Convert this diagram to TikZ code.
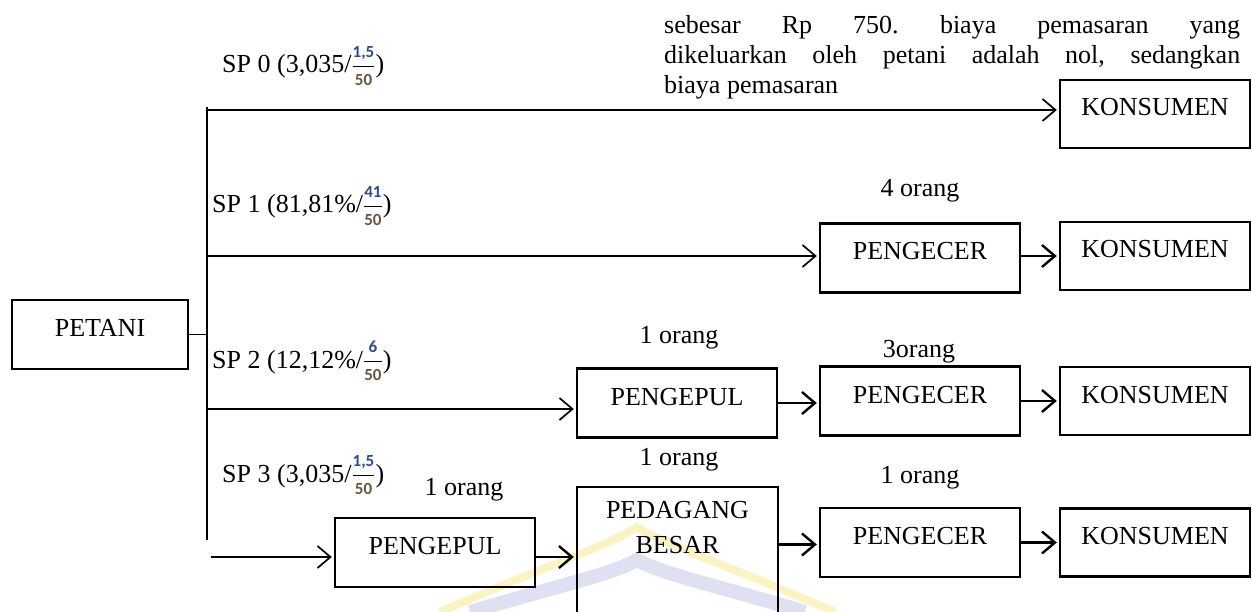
\documentclass[tikz,border=0pt]{standalone}
\usepackage{fontspec}
\setmainfont{Liberation Serif}
\newfontfamily\fracfont{Carlito}
\usepackage{xcolor}
\usepackage{amsmath}
\usetikzlibrary{arrows.meta,positioning}
\definecolor{fracnum}{RGB}{45,75,145}
\definecolor{fracden}{RGB}{105,85,60}
\definecolor{wmyellow}{RGB}{252,243,196}
\definecolor{wmblue}{RGB}{224,224,243}
\newcommand{\spfrac}[2]{\ensuremath{\genfrac{}{}{1pt}{}%
  {\text{\fracfont\bfseries\fontsize{17}{17}\selectfont\color{fracnum}#1}\rule[-8pt]{0pt}{8pt}}%
  {\text{\fracfont\bfseries\fontsize{17}{17}\selectfont\color{fracden}#2}\rule{0pt}{17pt}}}}
\frenchspacing

\begin{document}
\begin{tikzpicture}[x=1pt,y=-1pt,>={Straight Barb[length=13pt,width=22pt]},
    font=\fontsize{26}{30}\selectfont,
    chain box/.style={draw,line width=2.4pt,inner sep=0pt,text height=18pt,text depth=14pt},
    konsumen/.style={chain box,minimum width=190pt,minimum height=68pt},
    trader/.style={chain box,minimum width=200pt,minimum height=69pt},
    branch/.style={->,line width=1.7pt,shorten >=2pt},
    link/.style={->,line width=2.4pt,shorten >=2pt},
    sp label/.style={anchor=base west,inner sep=0pt},
    count/.style={anchor=base,inner sep=0pt}]
  \clip (0,0) rectangle (1252,612);
  % faint watermark behind the bottom row
  \draw[wmblue,line width=14pt] (470,612) .. controls (560,585) and (610,575) .. (637,560) .. controls (665,575) and (715,585) .. (805,612);
  \draw[wmyellow,line width=8pt] (440,612) .. controls (560,560) and (610,545) .. (637,527) .. controls (665,545) and (715,560) .. (835,612);

  \node[chain box,minimum width=176pt,minimum height=69pt] (petani) at (100,334.5) {PETANI};

  \node[konsumen] (kons0) at (1155,114) {KONSUMEN};
  \node[trader] (ecer1) at (920,258) {PENGECER};
  \node[konsumen] (kons1) at (1155,256) {KONSUMEN};
  \node[trader] (pul2) at (677,403) {PENGEPUL};
  \node[trader] (ecer2) at (920,401) {PENGECER};
  \node[konsumen] (kons2) at (1155,401) {KONSUMEN};
  \node[trader] (pul3) at (435,552.5) {PENGEPUL};
  \node[draw,line width=2.4pt,minimum width=201pt,minimum height=170pt,anchor=north,
    label={[name=pedagangtext,anchor=north,inner sep=0pt,yshift=-15pt,align=center,font=\fontsize{26}{35}\selectfont]north:PEDAGANG\\BESAR}] (pedagang) at (677.5,486) {};
  \node[trader] (ecer3) at (920,542.5) {PENGECER};
  \node[konsumen] (kons3) at (1155,542.5) {KONSUMEN};

  \node[anchor=north west,inner sep=0pt,text width=576pt,align=justify] (note) at (664,15)
    {sebesar Rp 750. biaya pemasaran yang\linebreak dikeluarkan oleh petani adalah nol, sedangkan\linebreak biaya pemasaran};

  \node[sp label] (sp0text) at (222,73) {SP 0 (3,035/\spfrac{1,5}{50})};
  \node[sp label] (sp1text) at (212,213) {SP 1 (81,81\%/\spfrac{41}{50})};
  \node[sp label] (sp2text) at (212,368) {SP 2 (12,12\%/\spfrac{6}{50})};
  \node[sp label] (sp3text) at (222,482) {SP 3 (3,035/\spfrac{1,5}{50})};

  \node[count] (n1) at (920,197) {4 orang};
  \node[count] (n2) at (679,343) {1 orang};
  \node[count] (n3) at (919,357) {3orang};
  \node[count] (n4) at (679,465) {1 orang};
  \node[count] (n5) at (464,495) {1 orang};
  \node[count] (n6) at (920,483) {1 orang};

  \coordinate (trunktop) at (207,107);
  \coordinate (trunkbot) at (207,540);
  \coordinate (sp0) at (207,110);
  \coordinate (sp1) at (207,256);
  \coordinate (sp2) at (207,409);
  \coordinate (sp3) at (211,557);

  \draw[line width=1.2pt] (trunktop) -- (trunkbot);
  \draw[line width=1.2pt] (petani.east) -- (petani.east -| trunktop);

  \draw[branch] (sp0) -- (sp0 -| kons0.west);
  \draw[branch] (sp1) -- (sp1 -| ecer1.west);
  \draw[branch] (sp2) -- (sp2 -| pul2.west);
  \draw[branch] (sp3) -- (sp3 -| pul3.west);

  \draw[link] (ecer1.east |- sp1) -- (kons1.west |- sp1);
  \draw[link] (pul2.east) -- (pul2.east -| ecer2.west);
  \draw[link] (ecer2.east) -- (kons2.west);
  \draw[link] (pul3.east |- sp3) -- (sp3 -| pedagang.west);
  \draw[link] ([yshift=-2pt]pedagang.east |- ecer3.east) -- ([yshift=-2pt]ecer3.west);
  \draw[link] (ecer3.east) -- (kons3.west);
\end{tikzpicture}
\end{document}
